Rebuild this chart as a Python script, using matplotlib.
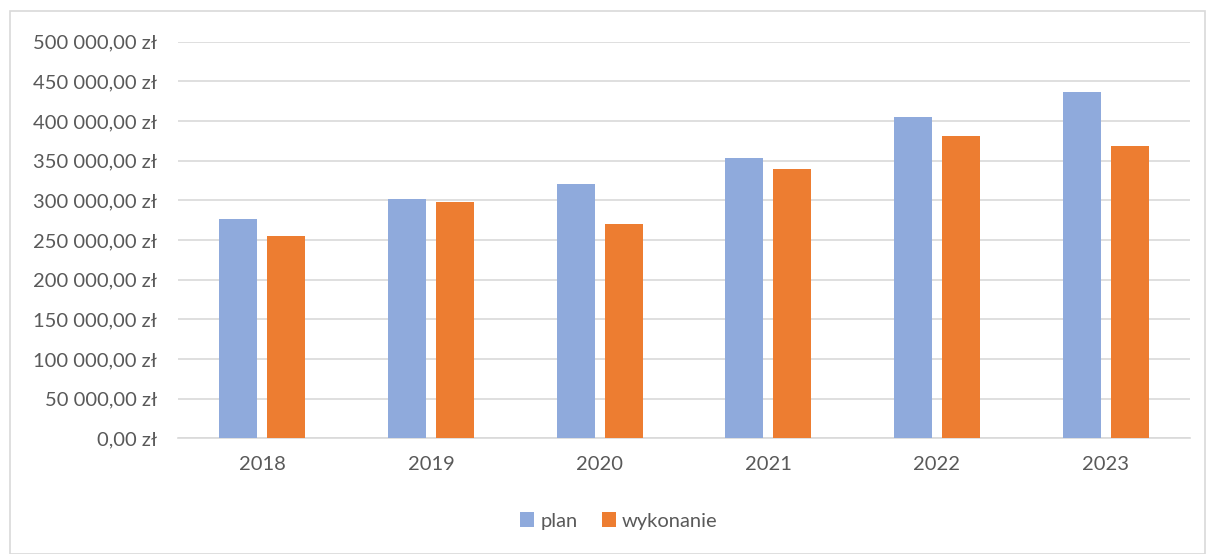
import numpy as np
import matplotlib.pyplot as plt
from matplotlib.patches import Rectangle
from matplotlib.ticker import FuncFormatter

# data
years = ['2018', '2019', '2020', '2021', '2022', '2023']
plan = [276100, 302100, 320600, 353800, 405400, 437000]
wykonanie = [255400, 297500, 270200, 339100, 380700, 368900]

PLAN_COLOR = '#8FAADC'
WYK_COLOR = '#ED7D31'
TEXT_COLOR = '#595959'
GRID_COLOR = '#D9D9D9'
FS = 14.5

plt.rcParams['font.family'] = ['Lato', 'DejaVu Sans']

fig = plt.figure(figsize=(12.08, 5.54), dpi=100)
W, H = 1208, 554
ax = fig.add_axes([178 / W, 1 - 438.3 / H, (1190 - 178) / W, (438.3 - 41.7) / H])

# outer chart border
fig.patches.append(Rectangle((10 / W, 0.0), (1205 - 10) / W, 1 - 11 / H,
                             transform=fig.transFigure, fill=False,
                             edgecolor=GRID_COLOR, linewidth=1.2))

x = np.arange(len(years))
bw = 0.225
off = 0.1425
ax.bar(x - off, plan, bw, color=PLAN_COLOR, label='plan', zorder=3)
ax.bar(x + off, wykonanie, bw, color=WYK_COLOR, label='wykonanie', zorder=3)

ax.set_xlim(-0.5, len(years) - 0.5)
ax.set_ylim(0, 500000)
ax.set_yticks(np.arange(0, 500001, 50000))


def pln(v, pos):
    s = f'{v:,.2f}'.replace(',', ' ').replace('.', ',')
    return f'{s} zł'


ax.yaxis.set_major_formatter(FuncFormatter(pln))
ax.set_xticks(x)
ax.set_xticklabels(years)
ax.grid(axis='y', color=GRID_COLOR, linewidth=1.2, zorder=0)
for side in ['top', 'right', 'left']:
    ax.spines[side].set_visible(False)
ax.spines['bottom'].set_color(GRID_COLOR)
ax.spines['bottom'].set_linewidth(1.2)
ax.tick_params(axis='both', length=0, labelsize=FS, colors=TEXT_COLOR)
ax.tick_params(axis='y', pad=15)
ax.tick_params(axis='x', pad=13)

leg = fig.legend(loc='center', bbox_to_anchor=(619 / W, 1 - 521 / H), ncol=2,
                 frameon=False, fontsize=FS, handlelength=0.7,
                 handleheight=0.7, handletextpad=0.3, columnspacing=1.2)
for t in leg.get_texts():
    t.set_color(TEXT_COLOR)

fig.savefig('out.png', dpi=100)
